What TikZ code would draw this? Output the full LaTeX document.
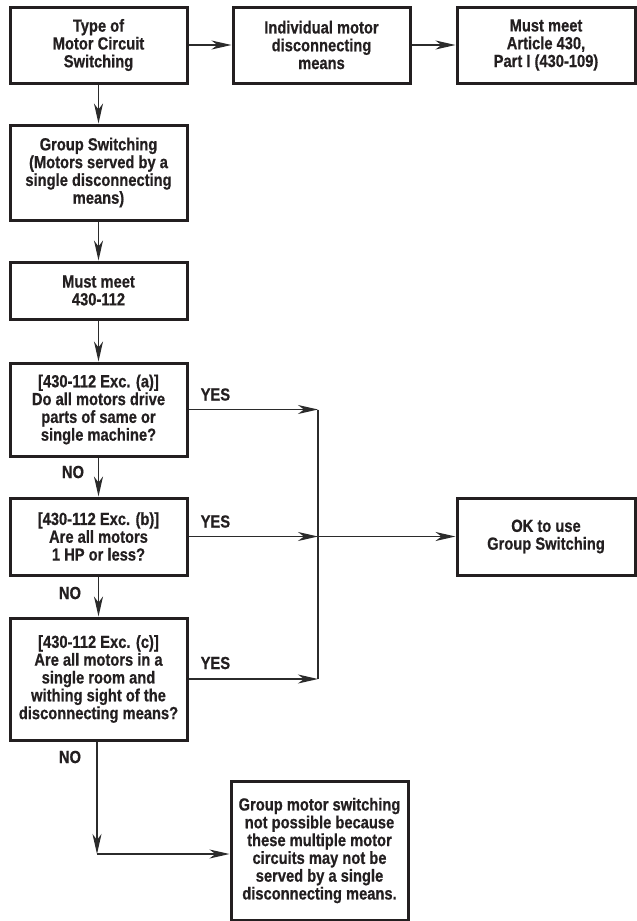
\documentclass[tikz,border=0pt]{standalone}
\usepackage{fontspec}
\setmainfont[FakeStretch=0.84,BoldFeatures={FakeBold=0.6}]{Liberation Sans}
\usetikzlibrary{arrows.meta,calc}
\definecolor{ink}{HTML}{231F20}
\definecolor{wire}{HTML}{2B2B2B}
\begin{document}
\begin{tikzpicture}[x=1pt,y=-1pt,
  box/.style={draw=ink, line width=3pt, fill=white, minimum width=177pt,
    inner sep=0pt, align=center, text=ink,
    font=\bfseries\fontsize{17.5}{17.8}\selectfont},
  lbl/.style={text=ink, inner sep=0pt, font=\bfseries\fontsize{17.5}{17.8}\selectfont},
  wireline/.style={draw=wire, line width=1.3pt},
  arr/.style={wireline, -{Stealth[length=20pt,width=9pt,inset=6pt]}}]
\useasboundingbox (0,0) rectangle (637,921);

% boxes
\node[box, minimum height=76pt] (type) at (98.5,45) {Type of\\Motor Circuit\\Switching};
\node[box, minimum height=76pt] (indiv) at (321.5,45) {Individual motor\\disconnecting\\means};
\node[box, minimum height=76pt, minimum width=178pt] (art) at (546,45) {Must meet\\Article 430,\\Part I (430-109)};
\node[box, minimum height=95pt] (group) at (98.5,172.5) {Group Switching\\(Motors served by a\\single disconnecting\\means)};
\node[box, minimum height=57pt] (meet) at (98.5,290.5) {Must meet\\430-112};
\node[box, minimum height=93pt] (exa) at (98.5,409.5) {[430-112 Exc. (a)]\\Do all motors drive\\parts of same or\\single machine?};
\node[box, minimum height=77pt] (exb) at (98.5,536.5) {[430-112 Exc. (b)]\\Are all motors\\1 HP or less?};
\node[box, minimum height=122pt] (exc) at (98.5,679) {[430-112 Exc. (c)]\\Are all motors in a\\single room and\\withing sight of the\\disconnecting means?};
\node[box, minimum height=77pt, minimum width=178pt] (ok) at (546,536.5) {OK to use\\Group Switching};
\node[box, minimum height=139pt] (notok) at (319.5,850.5) {Group motor switching\\not possible because\\these multiple motor\\circuits may not be\\served by a single\\disconnecting means.};

% junction points
\coordinate (ja) at (318,409.5);
\coordinate (jb) at (318,536.5);
\coordinate (jc) at (318,679);
\coordinate (jn) at (97,854);

% top row
\draw[arr] (type) -- (indiv);
\draw[arr] (indiv) -- (art);
\draw[arr] (type) -- (group);
\draw[arr] (group) -- (meet);
\draw[arr] (meet) -- (exa);

% exception chain
\draw[arr] (exa) -- (exb);
\draw[arr] (exb) -- (exc);
\draw[arr] (exc.south -| jn) -- (jn);
\draw[arr] (jn) -- (jn -| notok.west);

% YES branches
\draw[arr] (exa.east) -- (ja);
\draw[arr] (exb.east) -- (jb);
\draw[arr] (exc.east) -- (jc);
\draw[wireline] (ja) -- (jc);
\draw[arr] (jb) -- (ok.west);

% labels
\node[lbl, anchor=west] (ya) at ($(exa.east)+(12,-15)$) {YES};
\node[lbl, anchor=west] (yb) at ($(exb.east)+(12,-15)$) {YES};
\node[lbl, anchor=west] (yc) at ($(exc.east)+(12,-16)$) {YES};
\node[lbl] (na) at (73,472) {NO};
\node[lbl] (nb) at (70,593) {NO};
\node[lbl] (nc) at (70,757) {NO};
\end{tikzpicture}
\end{document}
